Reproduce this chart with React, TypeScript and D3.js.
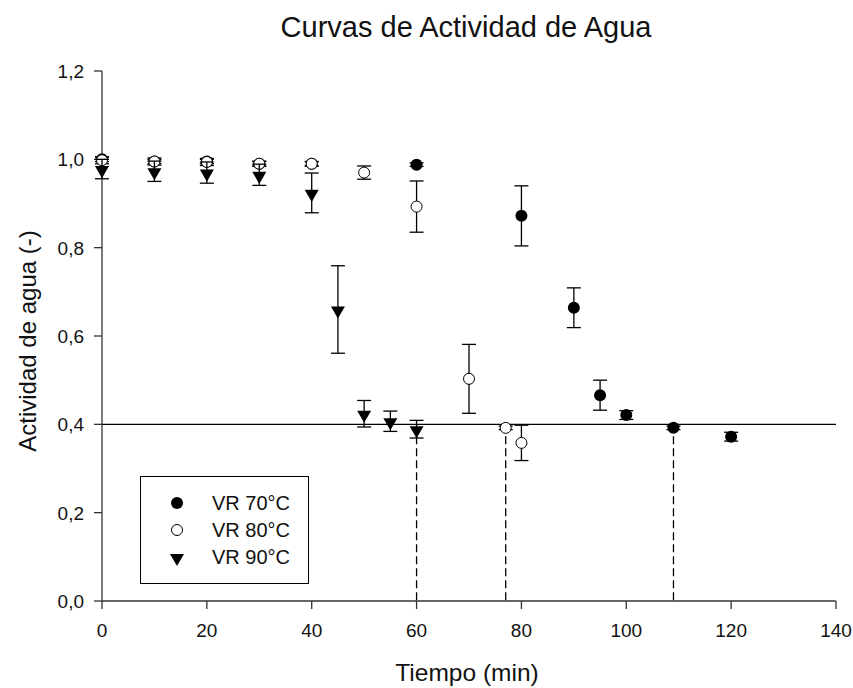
import React from "react";
import * as d3 from "d3";

const t70 = [0, 10, 20, 30, 40, 60, 80, 90, 95, 100, 109, 120];
const v70 = [1.0, 0.995, 0.995, 0.99, 0.99, 0.988, 0.872, 0.664, 0.466, 0.421, 0.392, 0.372];
const e70 = [0.005, 0.005, 0.005, 0.005, 0.005, 0.004, 0.068, 0.045, 0.034, 0.01, 0.004, 0.01];

const t80 = [0, 10, 20, 30, 40, 50, 60, 70, 77, 80];
const v80 = [0.998, 0.995, 0.994, 0.99, 0.99, 0.97, 0.893, 0.503, 0.392, 0.358];
const e80 = [0.008, 0.008, 0.008, 0.006, 0.005, 0.015, 0.058, 0.078, 0.004, 0.04];

const t90 = [0, 10, 20, 30, 40, 45, 50, 55, 60];
const v90 = [0.978, 0.973, 0.97, 0.965, 0.924, 0.66, 0.424, 0.407, 0.389];
const e90 = [0.022, 0.023, 0.024, 0.024, 0.045, 0.099, 0.03, 0.023, 0.02];

const xTicks = [0, 20, 40, 60, 80, 100, 120, 140];
const yTicks = [0, 0.2, 0.4, 0.6, 0.8, 1.0, 1.2];
const dashedTimes = [60, 77, 109];
const threshold = 0.4;
const legendLabels = ["VR 70°C", "VR 80°C", "VR 90°C"];

const W = 853;
const H = 688;
const m = { left: 102, right: 836, top: 71, bottom: 601 };
const font = "'Liberation Sans', Arial, sans-serif";

export default function App() {
  const x = d3.scaleLinear().domain([0, 140]).range([m.left, m.right]);
  const y = d3.scaleLinear().domain([0, 1.2]).range([m.bottom, m.top]);
  const fmt = (v: number) => v.toFixed(1).replace(".", ",");
  const tri = d3.symbol().type(d3.symbolTriangle).size(85)();

  const errBars = (ts: number[], vs: number[], es: number[], key: string) =>
    ts.map((t, i) => {
      const cx = x(t);
      const y1 = y(vs[i] + es[i]);
      const y2 = y(vs[i] - es[i]);
      return (
        <g key={key + i} stroke="#000" strokeWidth={1.3}>
          <line x1={cx} x2={cx} y1={y1} y2={y2} />
          <line x1={cx - 7} x2={cx + 7} y1={y1} y2={y1} />
          <line x1={cx - 7} x2={cx + 7} y1={y2} y2={y2} />
        </g>
      );
    });

  const triangle = (cx: number, cy: number, k: string) => (
    <path key={k} d={tri as string} transform={`translate(${cx},${cy}) rotate(180)`} fill="#000" />
  );

  return (
    <svg width={W} height={H} style={{ display: "block", position: "absolute", left: 0, top: 0 }}>
      <rect width={W} height={H} fill="#fff" />
      <text x={466} y={37} textAnchor="middle" fontFamily={font} fontSize={29} fill="#111">
        Curvas de Actividad de Agua
      </text>

      {/* threshold line */}
      <line x1={x(0)} x2={x(140)} y1={y(threshold)} y2={y(threshold)} stroke="#000" strokeWidth={1.3} />
      {dashedTimes.map((t, i) => (
        <line key={"d" + i} x1={x(t)} x2={x(t)} y1={y(threshold)} y2={y(0)} stroke="#000" strokeWidth={1.3} strokeDasharray="8,4" />
      ))}

      {/* axes */}
      <line x1={m.left} x2={m.right} y1={m.bottom} y2={m.bottom} stroke="#333" strokeWidth={1.3} />
      <line x1={m.left} x2={m.left} y1={m.top} y2={m.bottom} stroke="#333" strokeWidth={1.3} />
      {xTicks.map((t) => (
        <g key={"xt" + t}>
          <line x1={x(t)} x2={x(t)} y1={m.bottom} y2={m.bottom + 8} stroke="#333" strokeWidth={1.3} />
          <text x={x(t)} y={m.bottom + 36} textAnchor="middle" fontFamily={font} fontSize={19} fill="#111">
            {t}
          </text>
        </g>
      ))}
      {yTicks.map((t) => (
        <g key={"yt" + t}>
          <line x1={m.left - 8} x2={m.left} y1={y(t)} y2={y(t)} stroke="#333" strokeWidth={1.3} />
          <text x={m.left - 18} y={y(t) + 7} textAnchor="end" fontFamily={font} fontSize={19} fill="#111">
            {fmt(t)}
          </text>
        </g>
      ))}
      <text x={467} y={681} textAnchor="middle" fontFamily={font} fontSize={24.5} fill="#111">
        Tiempo (min)
      </text>
      <text transform={`translate(36,${341}) rotate(-90)`} textAnchor="middle" fontFamily={font} fontSize={24} fill="#111">
        Actividad de agua (-)
      </text>

      {/* series */}
      {errBars(t70, v70, e70, "e70")}
      {t70.map((t, i) => (
        <circle key={"c70" + i} cx={x(t)} cy={y(v70[i])} r={6} fill="#000" />
      ))}
      {errBars(t80, v80, e80, "e80")}
      {t80.map((t, i) => (
        <circle key={"c80" + i} cx={x(t)} cy={y(v80[i])} r={5.5} fill="#fff" stroke="#000" strokeWidth={1} />
      ))}
      {errBars(t90, v90, e90, "e90")}
      {t90.map((t, i) => triangle(x(t), y(v90[i]) + 1, "t90" + i))}

      {/* legend */}
      <rect x={140.5} y={476.5} width={168} height={107} fill="#fff" stroke="#000" strokeWidth={1} />
      {legendLabels.map((lab, i) => {
        const ly = 503 + i * 27;
        return (
          <g key={"lg" + i}>
            {i === 0 && <circle cx={177} cy={ly} r={6} fill="#000" />}
            {i === 1 && <circle cx={177} cy={ly} r={5.5} fill="#fff" stroke="#000" strokeWidth={1} />}
            {i === 2 && triangle(177, ly + 1, "lt")}
            <text x={212} y={ly + 7} fontFamily={font} fontSize={20} fill="#111">
              {lab}
            </text>
          </g>
        );
      })}
    </svg>
  );
}
